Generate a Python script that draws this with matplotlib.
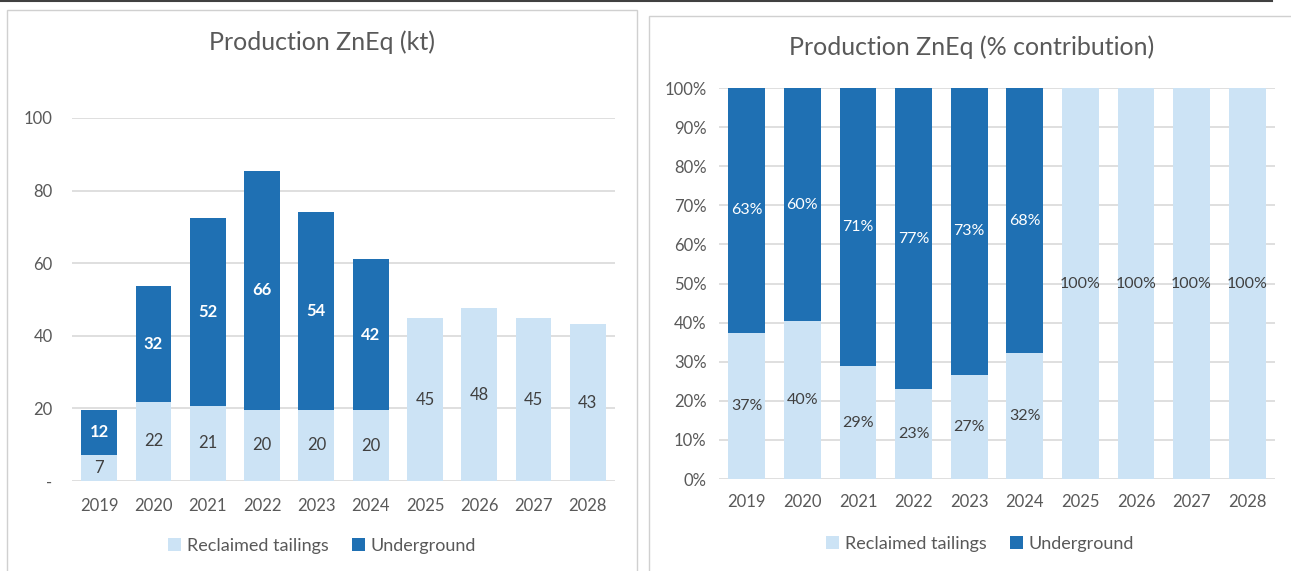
import numpy as np
import matplotlib.pyplot as plt
from matplotlib.patches import Rectangle
from matplotlib.lines import Line2D

plt.rcParams['font.family'] = ['Lato', 'DejaVu Sans']

years = ['2019', '2020', '2021', '2022', '2023', '2024', '2025', '2026', '2027', '2028']

# production (kt)
reclaimed_kt = [7.3, 21.8, 20.7, 19.6, 19.6, 19.5, 44.8, 47.6, 44.8, 43.2]
underground_kt = [12.3, 31.9, 51.8, 65.8, 54.4, 41.6, 0, 0, 0, 0]

# % contribution
reclaimed_pct = [37.4, 40.4, 28.9, 23.0, 26.6, 32.2, 100, 100, 100, 100]
underground_pct = [62.6, 59.6, 71.1, 77.0, 73.4, 67.8, 0, 0, 0, 0]

dark = '#1F70B3'
light = '#CCE3F5'
txt = '#595959'
grid = '#D9D9D9'

fig = plt.figure(figsize=(12.91, 5.71), dpi=100)

# panel borders and top line
fig.patches.append(Rectangle((7/1291, -0.05), 630/1291, 1.05 - 10/571, transform=fig.transFigure,
                             fill=False, edgecolor='#D0D0D0', lw=1))
fig.patches.append(Rectangle((649/1291, -0.05), 660/1291, 1.05 - 16/571, transform=fig.transFigure,
                             fill=False, edgecolor='#D0D0D0', lw=1))
fig.lines.append(Line2D([0, 1272/1291], [1 - 1/571, 1 - 1/571], transform=fig.transFigure,
                        color='#404040', lw=1.5))

x = np.arange(len(years))
w = 0.66


def style(ax):
    for s in ax.spines.values():
        s.set_visible(False)
    ax.set_axisbelow(True)
    ax.grid(axis='y', color=grid, lw=1.2)
    ax.tick_params(length=0, colors=txt, labelsize=12)
    ax.set_xticks(x)
    ax.set_xticklabels(years)
    ax.set_xlim(-0.5, len(years) - 0.5)


def add_legend(ax, cx, cy):
    ax.legend(loc='center', bbox_to_anchor=(cx/1291, 1 - cy/571), bbox_transform=fig.transFigure,
              ncol=2, frameon=False, fontsize=13, handlelength=0.75, handleheight=0.75,
              handletextpad=0.3, columnspacing=1.3, labelcolor=txt)


# left chart
ax1 = fig.add_axes([72/1291, 1 - 481/571, 543/1291, 363/571])
ax1.bar(x, reclaimed_kt, w, color=light, label='Reclaimed tailings')
ax1.bar(x, underground_kt, w, bottom=reclaimed_kt, color=dark, label='Underground')
style(ax1)
ax1.set_ylim(0, 100)
ax1.set_yticks([0, 20, 40, 60, 80, 100])
ax1.set_yticklabels(['-', '20', '40', '60', '80', '100'])
ax1.tick_params(axis='y', pad=14)
ax1.tick_params(axis='x', pad=12)
for i in range(len(years)):
    ax1.text(x[i], reclaimed_kt[i] / 2, f'{reclaimed_kt[i]:.0f}', ha='center', va='center',
             color='#404040', fontsize=12)
    if underground_kt[i] > 0:
        ax1.text(x[i], reclaimed_kt[i] + underground_kt[i] / 2, f'{underground_kt[i]:.0f}',
                 ha='center', va='center', color='white', fontsize=12, fontweight='bold')
fig.text(322/1291, 1 - 42/571, 'Production ZnEq (kt)', ha='center', va='center', color=txt, fontsize=18)
add_legend(ax1, 322, 546)

# right chart
ax2 = fig.add_axes([719/1291, 1 - 479/571, 556/1291, 391/571])
ax2.bar(x, reclaimed_pct, w, color=light, label='Reclaimed tailings')
ax2.bar(x, underground_pct, w, bottom=reclaimed_pct, color=dark, label='Underground')
style(ax2)
ax2.set_ylim(0, 100)
ax2.set_yticks(np.arange(0, 101, 10))
ax2.set_yticklabels([f'{v}%' for v in range(0, 101, 10)])
ax2.tick_params(axis='y', pad=9)
ax2.tick_params(axis='x', pad=11)
for i in range(len(years)):
    ax2.text(x[i], reclaimed_pct[i] / 2, f'{reclaimed_pct[i]:.0f}%', ha='center', va='center',
             color='#404040', fontsize=11.5)
    if underground_pct[i] > 0:
        ax2.text(x[i], reclaimed_pct[i] + underground_pct[i] / 2, f'{underground_pct[i]:.0f}%',
                 ha='center', va='center', color='white', fontsize=11.5)
fig.text(972/1291, 1 - 47/571, 'Production ZnEq (% contribution)', ha='center', va='center',
         color=txt, fontsize=18)
add_legend(ax2, 980, 544)

fig.savefig('out.png', dpi=100)
